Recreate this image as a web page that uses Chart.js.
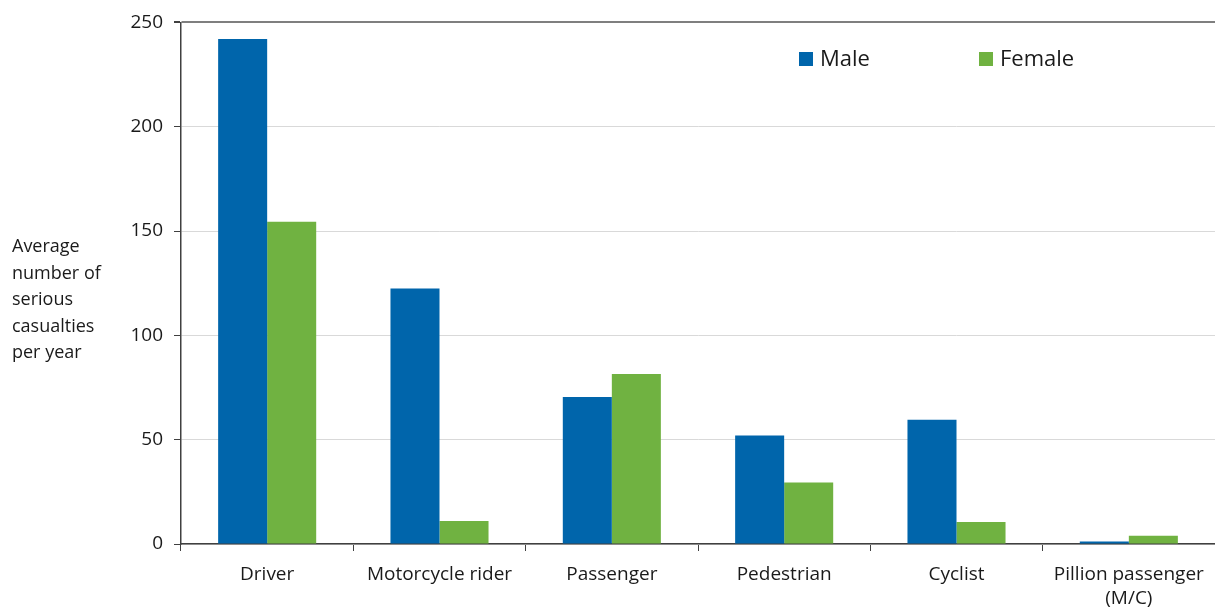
<!DOCTYPE html>
<html>
<head>
<meta charset="utf-8">
<script src="https://cdn.jsdelivr.net/npm/chart.js@4"></script>
<style>
  html, body { margin: 0; padding: 0; background: #fff; }
  #wrap { width: 1215px; height: 612px; }
</style>
</head>
<body>
<div id="wrap"><canvas id="chartCanvas" width="1215" height="612"></canvas></div>
<script>
const categories = ['Driver', 'Motorcycle rider', 'Passenger', 'Pedestrian', 'Cyclist', ['Pillion passenger', '(M/C)']];
const maleValues = [242, 122.5, 70.5, 52, 59.5, 1.2];
const femaleValues = [154.5, 11, 81.5, 29.5, 10.5, 4];
const yTicks = [0, 50, 100, 150, 200, 250];
const yTitleLines = ['Average', 'number of', 'serious', 'casualties', 'per year'];

const FONT = "'Open Sans', 'Liberation Sans', sans-serif";

// horizontal y title on the left
const yTitlePlugin = {
  id: 'yTitle',
  afterDraw(chart) {
    const ctx = chart.ctx;
    ctx.save();
    ctx.font = '18px ' + FONT;
    ctx.fillStyle = '#1a1a1a';
    ctx.textAlign = 'left';
    ctx.textBaseline = 'middle';
    yTitleLines.forEach((line, i) => ctx.fillText(line, 12, 247 + i * 26.5));
    ctx.restore();
  }
};

// legend inside the plot, top right
const legendPlugin = {
  id: 'insideLegend',
  afterDraw(chart) {
    const ctx = chart.ctx;
    const xs = [799, 979];
    ctx.save();
    ctx.font = '22px ' + FONT;
    ctx.textBaseline = 'middle';
    ctx.textAlign = 'left';
    chart.data.datasets.forEach((ds, i) => {
      ctx.fillStyle = ds.backgroundColor;
      ctx.fillRect(xs[i], 52, 14, 14);
      ctx.fillStyle = '#1a1a1a';
      ctx.fillText(ds.label, xs[i] + 21, 60);
    });
    ctx.restore();
  }
};

const ctx = document.getElementById('chartCanvas').getContext('2d');
const chart = new Chart(ctx, {
  type: 'bar',
  data: {
    labels: categories,
    datasets: [
      { label: 'Male', data: maleValues, backgroundColor: '#0065AB' },
      { label: 'Female', data: femaleValues, backgroundColor: '#70B241' }
    ]
  },
  options: {
    responsive: false,
    animation: false,
    layout: { padding: { top: 20, right: 0, left: 0, bottom: 0 } },
    datasets: { bar: { categoryPercentage: 0.569, barPercentage: 1 } },
    plugins: {
      legend: { display: false },
      tooltip: { enabled: false }
    },
    scales: {
      x: {
        afterFit: axis => { axis.height = 68; },
        border: { display: true, color: '#404040', width: 1.5 },
        grid: {
          offset: true,
          drawOnChartArea: false,
          drawTicks: true,
          tickLength: 7,
          tickColor: '#404040'
        },
        ticks: {
          color: '#1a1a1a',
          font: { family: FONT, size: 19, lineHeight: 1.3 },
          padding: 11,
          maxRotation: 0,
          autoSkip: false
        }
      },
      y: {
        min: 0,
        max: 250,
        afterFit: axis => { axis.width = 181; },
        afterBuildTicks: axis => { axis.ticks = yTicks.map(v => ({ value: v })); },
        border: { display: true, color: '#404040', width: 1.5 },
        grid: {
          color: c => c.tick && c.tick.value === 250 ? '#7f7f7f' : '#d9d9d9',
          lineWidth: c => c.tick && c.tick.value === 250 ? 2 : 1,
          drawTicks: true,
          tickLength: 7,
          tickColor: '#404040'
        },
        ticks: {
          color: '#1a1a1a',
          font: { family: FONT, size: 19 },
          padding: 11
        }
      }
    }
  },
  plugins: [yTitlePlugin, legendPlugin]
});
</script>
</body>
</html>
